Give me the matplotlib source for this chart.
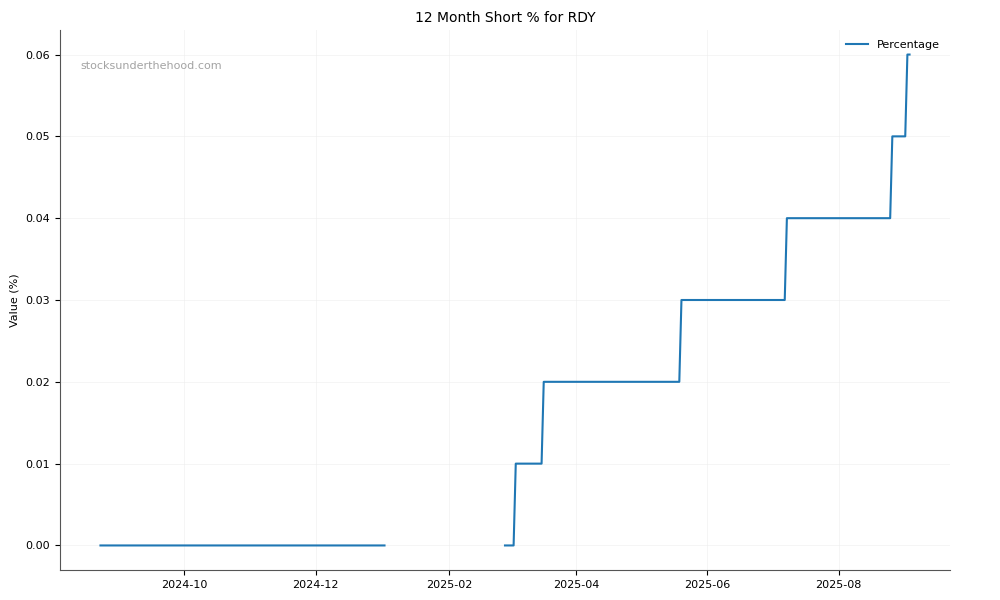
import matplotlib
matplotlib.use("Agg")
import matplotlib.pyplot as plt
import matplotlib.dates as mdates
import pandas as pd
import numpy as np

# Step segments: (start date, end date, value)
seg_starts = ["2024-08-23", "2025-02-27", "2025-03-04", "2025-03-17", "2025-05-20", "2025-07-08", "2025-08-26", "2025-09-02"]
seg_ends   = ["2025-01-02", "2025-03-03", "2025-03-16", "2025-05-19", "2025-07-07", "2025-08-25", "2025-09-01", "2025-09-03"]
seg_values = [0.00, 0.00, 0.01, 0.02, 0.03, 0.04, 0.05, 0.06]

dates = []
vals = []
for s, e, v in zip(seg_starts, seg_ends, seg_values):
    d = pd.date_range(s, e, freq="D")
    dates.extend(d)
    vals.extend([v] * len(d))
series = pd.Series(vals, index=pd.DatetimeIndex(dates))
series = series.reindex(pd.date_range(series.index.min(), series.index.max(), freq="D"))

fig = plt.figure(figsize=(10, 6), dpi=100)
ax = fig.add_axes([0.06, 0.05, 0.89, 0.90])
ax.plot(series.index, series.values, color="#1f77b4", lw=1.5, label="Percentage")

ax.set_title("12 Month Short % for RDY", fontsize=10)
ax.set_ylabel("Value (%)", fontsize=8)
ax.tick_params(labelsize=8, colors="black")
ax.xaxis.set_major_locator(mdates.MonthLocator(bymonth=[2, 4, 6, 8, 10, 12]))
ax.xaxis.set_major_formatter(mdates.DateFormatter("%Y-%m"))
ax.grid(True, color="#eeeeee", lw=0.6, alpha=0.7)
for sp in ["top", "right"]:
    ax.spines[sp].set_visible(False)
for sp in ["left", "bottom"]:
    ax.spines[sp].set_color("#555555")
ax.legend(loc="upper right", frameon=False, fontsize=8)
ax.text(0.023, 0.933, "stocksunderthehood.com", transform=ax.transAxes,
        fontsize=8, color="#999999", alpha=0.9, va="center")

fig.savefig("out.png", dpi=100)
